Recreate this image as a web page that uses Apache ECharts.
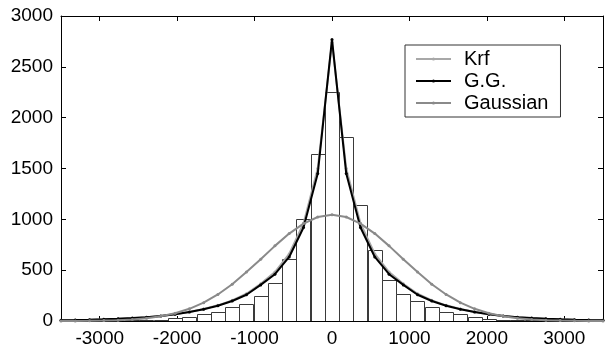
<!DOCTYPE html>
<html>
<head>
<meta charset="utf-8">
<script src="https://cdn.jsdelivr.net/npm/echarts@6/dist/echarts.min.js"></script>
<style>
  html, body { margin: 0; padding: 0; background: #fff; }
  #chart { width: 605px; height: 349px; }
</style>
</head>
<body>
<div id="chart"></div>
<script>
// bin centres (also the x positions of the fitted curves)
const binCenters = [-3500,-3316,-3132,-2947,-2763,-2579,-2395,-2211,-2026,-1842,-1658,-1474,-1289,-1105,-921,-737,-553,-368,-184,0,
  184,368,553,737,921,1105,1289,1474,1658,1842,2026,2211,2395,2579,2763,2947,3132,3316,3500];
const binWidth = 184;
const counts = [1,1,2,3,4,6,9,10,27,44,68,90,136,172,250,375,611,1007,1642,2251,
  1806,1137,695,400,270,195,133,88,66,43,21,10,7,5,3,2,2,1,1];
const krf = [7,9,12,16,21,28,38,50,67,89,118,154,203,268,366,482,660,960,1500,2740,
  1500,960,660,482,366,268,203,154,118,89,67,50,38,28,21,16,12,9,7];
const gg = [8,10,13,17,22,29,38,50,67,88,116,150,197,258,355,460,630,920,1450,2770,
  1450,920,630,460,355,258,197,150,116,88,67,50,38,29,22,17,13,10,8];
const gaussian = [0,1,2,4,8,15,27,46,76,120,180,261,362,481,607,739,860,958,1023,1045,
  1023,958,860,739,607,481,362,261,180,120,76,46,27,15,8,4,2,1,0];
const xTicks = [-3000,-2000,-1000,0,1000,2000,3000];

const chart = echarts.init(document.getElementById('chart'));
const fam = 'Liberation Sans, Arial, sans-serif';
const tickFont = {fontFamily: fam, fontSize: 19, color: '#000', formatter: v => String(v)};
const pairs = (ys) => binCenters.map((x, i) => [x, ys[i]]);
const frameLine = {show: true, onZero: false, lineStyle: {color: '#000', width: 1}};
const inTick = {show: true, inside: true, length: 5, lineStyle: {color: '#000'}};

chart.setOption({
  animation: false,
  grid: {left: 61, right: 2, top: 16, bottom: 28},
  legend: {
    data: ['Krf', 'G.G.', 'Gaussian'],
    orient: 'vertical',
    left: 405, top: 45,
    padding: [4, 12, 4, 10],
    itemGap: 2,
    itemWidth: 35, itemHeight: 4,
    borderColor: '#333', borderWidth: 1,
    backgroundColor: '#fff',
    textStyle: {fontFamily: fam, fontSize: 20, color: '#000', lineHeight: 20, padding: [0, 0, 0, 8]}
  },
  xAxis: [{
    type: 'value', min: -3500, max: 3500,
    axisLine: frameLine,
    axisTick: Object.assign({customValues: xTicks}, inTick),
    axisLabel: Object.assign({customValues: xTicks, margin: 8}, tickFont),
    splitLine: {show: false}
  }, {
    type: 'value', min: -3500, max: 3500, position: 'top',
    axisLine: frameLine,
    axisTick: Object.assign({customValues: xTicks}, inTick),
    axisLabel: {show: false, customValues: xTicks},
    splitLine: {show: false}
  }],
  yAxis: [{
    type: 'value', min: 0, max: 3000, interval: 500,
    axisLine: frameLine,
    axisTick: inTick,
    axisLabel: Object.assign({margin: 8}, tickFont),
    splitLine: {show: false}
  }, {
    type: 'value', min: 0, max: 3000, interval: 500, position: 'right',
    axisLine: frameLine,
    axisTick: inTick,
    axisLabel: {show: false},
    splitLine: {show: false}
  }],
  series: [
    {
      name: 'histogram',
      type: 'custom',
      clip: true,
      z: 1,
      data: pairs(counts),
      renderItem(params, api) {
        const c = api.value(0), v = api.value(1);
        const p0 = api.coord([c - binWidth / 2, 0]);
        const p1 = api.coord([c + binWidth / 2, v]);
        return {
          type: 'rect',
          shape: {x: Math.round(p0[0]) + 0.5, y: Math.round(p1[1]) + 0.5,
                  width: Math.round(p1[0] - p0[0]), height: Math.round(p0[1] - p1[1])},
          style: {fill: '#fff', stroke: '#3a3a3a', lineWidth: 1}
        };
      }
    },
    {
      name: 'Krf', type: 'line', z: 3, data: pairs(krf),
      symbol: 'circle', symbolSize: 3, color: '#a8a8a8',
      lineStyle: {width: 2, color: '#a8a8a8'}
    },
    {
      name: 'G.G.', type: 'line', z: 4, data: pairs(gg),
      symbol: 'circle', symbolSize: 3, color: '#000',
      lineStyle: {width: 2, color: '#000'}
    },
    {
      name: 'Gaussian', type: 'line', z: 5, data: pairs(gaussian),
      symbol: 'circle', symbolSize: 3, color: '#8a8a8a',
      lineStyle: {width: 2, color: '#8a8a8a'}
    }
  ]
});
</script>
</body>
</html>
